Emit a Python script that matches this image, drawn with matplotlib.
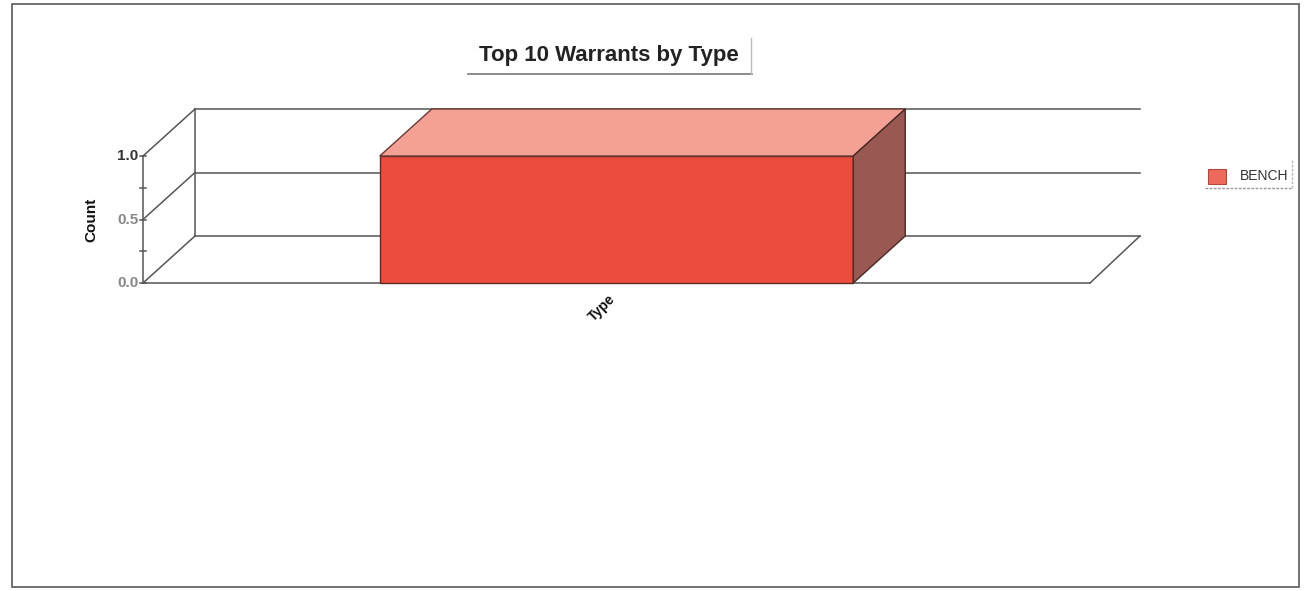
import matplotlib.pyplot as plt
from matplotlib.patches import Polygon, Rectangle
from matplotlib.lines import Line2D

plt.rcParams['font.family'] = ['Liberation Sans', 'DejaVu Sans']

# chart data
categories = ['BENCH']
counts = [1.0]
y_ticks = [0.0, 0.5, 1.0]
y_minor = [0.25, 0.75]
title = 'Top 10 Warrants by Type'

W, H = 1310, 591
fig = plt.figure(figsize=(W / 100, H / 100), dpi=100)
fig.patch.set_facecolor('white')

# front plane of the plot area, in pixels
left, right, bottom, top = 143, 1090, 283, 156
ax = fig.add_axes([left / W, 1 - bottom / H, (right - left) / W, (bottom - top) / H])
ax.set_xlim(-0.5, len(categories) - 0.5)
ax.set_ylim(0, 1.0)
ax.axis('off')

# depth offset of the back wall (in data units)
ddx = 52 / (right - left) * len(categories)
ddy = 47 / (bottom - top)
line_kw = dict(color='#555555', lw=1.1, clip_on=False)
x0, x1 = ax.get_xlim()

# back wall grid lines and left edge
for t in y_ticks:
    ax.plot([x0 + ddx, x1 + ddx * 0.96], [t + ddy, t + ddy], **line_kw)
ax.plot([x0 + ddx, x0 + ddx], [ddy, 1.0 + ddy], **line_kw)
# side wall diagonals
for t in y_ticks:
    ax.plot([x0, x0 + ddx], [t, t + ddy], **line_kw)
# floor
ax.plot([x0, x1], [0, 0], **line_kw)
ax.plot([x1, x1 + ddx * 0.96], [0, ddy], **line_kw)
# front vertical axis with ticks
ax.plot([x0, x0], [0, 1.0], **line_kw)
for t in y_ticks + y_minor:
    ax.plot([x0 - 0.003, x0 + 0.003], [t, t], **line_kw)
for t in y_ticks:
    ax.text(x0 - 0.005, t, f'{t:.1f}', ha='right', va='center',
            fontsize=11, fontweight='bold', color='#888888' if t < 1 else '#333333')
ax.text(x0 - 0.055, 0.5, 'Count', rotation=90, ha='center', va='center',
        fontsize=11, fontweight='bold', color='#111111')

# bars drawn as boxes
front_c, top_c, side_c = '#EC4C3C', '#F3A095', '#995852'
bw = 0.5
for i, v in enumerate(counts):
    ax.bar(i, v, width=bw, color=front_c, edgecolor='#5a2a25', lw=1.0, clip_on=False, zorder=3)
    xa, xb = i - bw / 2, i + bw / 2
    ax.add_patch(Polygon([(xa, v), (xa + ddx, v + ddy), (xb + ddx, v + ddy), (xb, v)],
                         closed=True, facecolor=top_c, edgecolor='#6a3a35', lw=1.0,
                         clip_on=False, zorder=3))
    ax.add_patch(Polygon([(xb, 0), (xb, v), (xb + ddx, v + ddy), (xb + ddx, ddy)],
                         closed=True, facecolor=side_c, edgecolor='#4a2a25', lw=1.0,
                         clip_on=False, zorder=3))

# x axis title
ax.text(0 - 0.015, -0.2, 'Type', rotation=45, ha='center', va='center',
        fontsize=10, fontweight='bold', color='#111111')

# title with box shadow
fig.text(609 / W, 1 - 55 / H, title, ha='center', va='center',
         fontsize=16, fontweight='bold', color='#222222')
fig.add_artist(Line2D([468 / W, 752 / W], [1 - 74 / H, 1 - 74 / H], color='#777777', lw=1.2))
fig.add_artist(Line2D([751 / W, 751 / W], [1 - 38 / H, 1 - 74 / H], color='#bbbbbb', lw=1.0))

# legend
fig.add_artist(Rectangle((1208 / W, 1 - 184 / H), 18 / W, 15 / H, facecolor='#EE6A5C',
                         edgecolor='#aa4a40', lw=0.8))
fig.text(1240 / W, 1 - 176 / H, categories[0], ha='left', va='center', fontsize=10,
         color='#333333')
fig.add_artist(Line2D([1205 / W, 1292 / W], [1 - 188 / H, 1 - 188 / H], color='#999999',
                      lw=1.0, ls=(0, (2, 1))))
fig.add_artist(Line2D([1292 / W, 1292 / W], [1 - 160 / H, 1 - 188 / H], color='#bbbbbb',
                      lw=1.0, ls=(0, (2, 1))))

# outer frame
fig.add_artist(Rectangle((12 / W, 1 - 587 / H), 1287 / W, 583 / H, fill=False,
                         edgecolor='#666666', lw=1.3))

fig.savefig('out.png', dpi=100, facecolor='white')
